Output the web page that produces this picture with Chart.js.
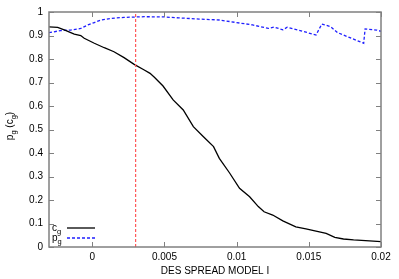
<!DOCTYPE html>
<html><head><meta charset="utf-8">
<script src="https://cdn.jsdelivr.net/npm/chart.js@4/dist/chart.umd.min.js"></script>
<style>html,body{margin:0;padding:0;background:#fff}#wrap{width:399px;height:279px}</style>
</head><body><div id="wrap"><canvas id="c" width="399" height="279"></canvas></div>
<script>
const cgX = [-0.003,-0.0024,-0.0019,-0.00125,-0.0008,-0.00056,0.00014,0.00083,0.0015,0.0022,0.0029,0.0036,0.004,0.0043,0.0049,0.0056,0.0063,0.007,0.0077,0.0084,0.0088,0.0095,0.0102,0.0109,0.0115,0.0119,0.0125,0.0132,0.0141,0.0148,0.0155,0.0162,0.0168,0.0174,0.0181,0.0192,0.02];
const cgY = [0.937,0.935,0.923,0.906,0.900,0.888,0.867,0.848,0.831,0.806,0.777,0.753,0.739,0.722,0.685,0.626,0.583,0.512,0.469,0.427,0.377,0.316,0.25,0.214,0.172,0.15,0.136,0.111,0.086,0.077,0.068,0.058,0.041,0.034,0.030,0.026,0.023];
const pgX = [-0.003,-0.0022,-0.0015,-0.0008,-0.0003,0.00014,0.0006,0.0013,0.0022,0.0036,0.005,0.006,0.0074,0.0088,0.01,0.0111,0.0122,0.0126,0.0132,0.0135,0.0144,0.0155,0.0159,0.0165,0.017,0.0178,0.0188,0.0189,0.0197,0.02];
const pgY = [0.912,0.921,0.923,0.93,0.945,0.955,0.966,0.973,0.977,0.98,0.979,0.975,0.970,0.966,0.955,0.945,0.930,0.936,0.924,0.935,0.921,0.902,0.949,0.938,0.912,0.892,0.867,0.928,0.923,0.918];
const cutX = [0.003, 0.003];
const cutY = [0, 1];
const xTicks = [0, 0.005, 0.01, 0.015, 0.02];
const yTicks = [0, 0.1, 0.2, 0.3, 0.4, 0.5, 0.6, 0.7, 0.8, 0.9, 1];
const xTitle = 'DES SPREAD MODEL I';

const FONT = '"Liberation Sans", Arial, sans-serif';
const pts = (xs, ys) => xs.map((x, i) => ({x, y: ys[i]}));

function subText(ctx, base, sub, x, y, size) {
  ctx.textAlign = 'left';
  ctx.textBaseline = 'alphabetic';
  ctx.font = size + 'px ' + FONT;
  const wb = ctx.measureText(base).width;
  ctx.fillText(base, x, y);
  ctx.font = (size * 0.75) + 'px ' + FONT;
  const ws = ctx.measureText(sub).width;
  ctx.fillText(sub, x + wb, y + size * 0.3);
  return wb + ws;
}

const decor = {
  id: 'decor',
  afterDraw(chart) {
    const {ctx, chartArea: a, scales} = chart;
    const xs = scales.x, ys = scales.y;
    ctx.save();
    ctx.strokeStyle = '#808080';
    ctx.lineWidth = 1.5;
    ctx.strokeRect(a.left, a.top, a.right - a.left, a.bottom - a.top);
    ctx.lineWidth = 1;
    ctx.beginPath();
    xTicks.forEach(v => {
      const px = Math.round(xs.getPixelForValue(v)) + 0.5;
      ctx.moveTo(px, a.bottom); ctx.lineTo(px, a.bottom - 5);
      ctx.moveTo(px, a.top); ctx.lineTo(px, a.top + 5);
    });
    yTicks.forEach(v => {
      const py = Math.round(ys.getPixelForValue(v)) + 0.5;
      ctx.moveTo(a.left, py); ctx.lineTo(a.left + 5, py);
      ctx.moveTo(a.right, py); ctx.lineTo(a.right - 5, py);
    });
    ctx.stroke();
    ctx.fillStyle = '#000';
    ctx.translate(13, 126);
    ctx.rotate(-Math.PI / 2);
    ctx.font = '10px ' + FONT;
    const w1 = ctx.measureText('p').width + ctx.measureText(' (c').width + ctx.measureText(')').width;
    ctx.font = '7.5px ' + FONT;
    const total = w1 + 2 * ctx.measureText('g').width;
    let cx = -total / 2;
    cx += subText(ctx, 'p', 'g', cx, 0, 10);
    cx += subText(ctx, ' (c', 'g', cx, 0, 10);
    ctx.font = '10px ' + FONT;
    ctx.fillText(')', cx, 0);
    ctx.restore();
    ctx.save();
    ctx.fillStyle = '#000';
    const lx = a.left + 3, lx1 = a.left + 18, lx2 = a.left + 46;
    const y1 = a.bottom - 18, y2 = a.bottom - 8;
    subText(ctx, 'c', 'g', lx, y1 + 2, 10);
    subText(ctx, 'p', 'g', lx, y2 + 2, 10);
    ctx.lineWidth = 1.3;
    ctx.strokeStyle = '#000';
    ctx.beginPath(); ctx.moveTo(lx1, y1 - 1); ctx.lineTo(lx2, y1 - 1); ctx.stroke();
    ctx.strokeStyle = '#1f1fff';
    ctx.setLineDash([3, 2]);
    ctx.beginPath(); ctx.moveTo(lx1, y2 - 1); ctx.lineTo(lx2, y2 - 1); ctx.stroke();
    ctx.restore();
  }
};

new Chart(document.getElementById('c'), {
  type: 'line',
  data: {
    datasets: [
      {label: 'cut', data: pts(cutX, cutY), borderColor: '#ff5a5a', borderWidth: 1.2, borderDash: [3, 2], pointRadius: 0, fill: false},
      {label: 'c_g', data: pts(cgX, cgY), borderColor: '#000', borderWidth: 1.3, pointRadius: 0, tension: 0, fill: false},
      {label: 'p_g', data: pts(pgX, pgY), borderColor: '#1f1fff', borderWidth: 1.3, borderDash: [3, 2], pointRadius: 0, tension: 0, fill: false}
    ]
  },
  options: {
    responsive: false,
    animation: false,
    layout: {padding: {top: 12, right: 18, left: 0, bottom: 0}},
    plugins: {legend: {display: false}, tooltip: {enabled: false}},
    scales: {
      x: {
        type: 'linear', min: -0.003, max: 0.02,
        afterBuildTicks: s => { s.ticks = xTicks.map(v => ({value: v})); },
        afterFit: s => { s.height = 32; },
        grid: {display: false},
        border: {display: false},
        ticks: {font: {family: FONT, size: 10}, color: '#000', padding: -4, maxRotation: 0,
          callback: v => String(v)},
        title: {display: true, text: xTitle, font: {family: FONT, size: 10}, color: '#000', padding: {top: 0, bottom: 2}}
      },
      y: {
        type: 'linear', min: 0, max: 1,
        afterBuildTicks: s => { s.ticks = yTicks.map(v => ({value: v})); },
        afterFit: s => { s.width = 49; },
        grid: {display: false},
        border: {display: false},
        ticks: {font: {family: FONT, size: 10}, color: '#000', padding: -2, callback: v => String(v)}
      }
    }
  },
  plugins: [decor]
});
</script></body></html>
